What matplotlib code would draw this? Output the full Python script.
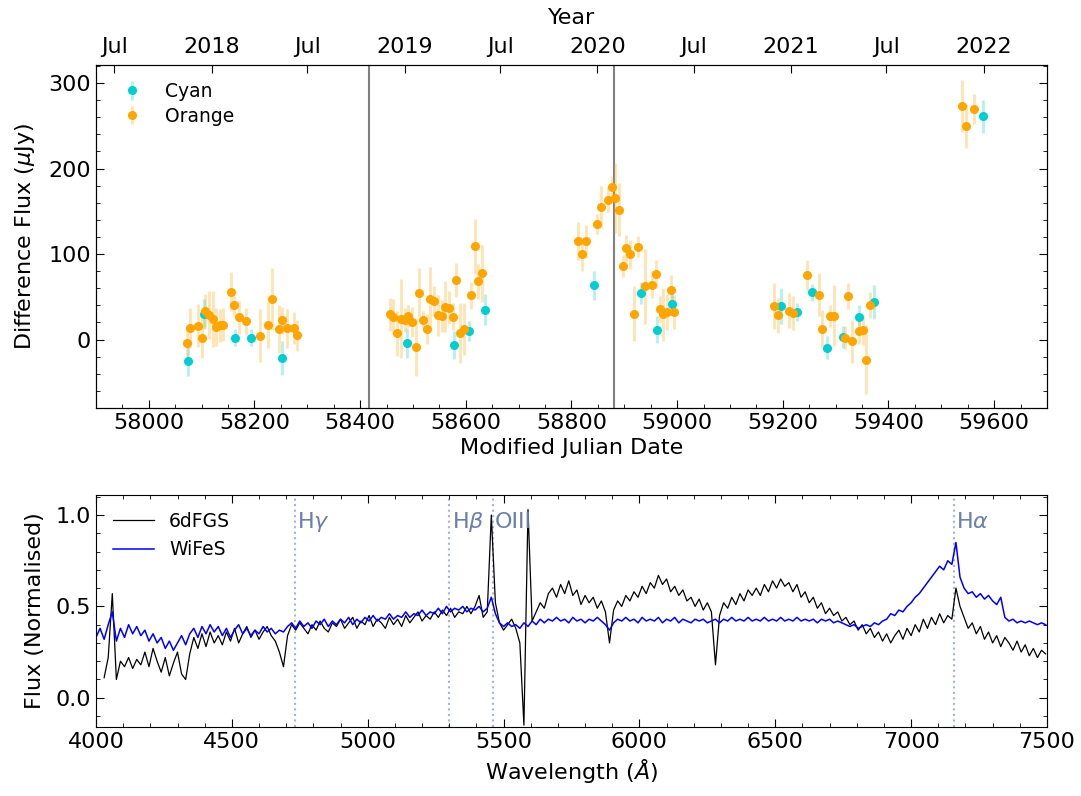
import numpy as np
import matplotlib
matplotlib.use('Agg')
import matplotlib.pyplot as plt
from matplotlib.ticker import AutoMinorLocator

plt.rcParams['font.size'] = 16

# light curve data (MJD, flux in uJy, error)
orange_mjd = [58072, 58078, 58093, 58100, 58107, 58114, 58121, 58128, 58134, 58141,
              58156, 58162, 58170, 58183, 58211, 58225, 58233, 58247, 58253, 58261,
              58274, 58281,
              58456, 58463, 58470, 58477, 58484, 58491, 58498, 58505, 58512, 58519,
              58526, 58533, 58540, 58547, 58554, 58561, 58568, 58575, 58582, 58589,
              58596, 58610, 58618, 58624, 58631,
              58813, 58820, 58827, 58849, 58855, 58869, 58876, 58883, 58890, 58897,
              58904, 58911, 58918, 58925, 58939, 58953, 58960, 58967, 58974, 58981,
              58988, 58995,
              59183, 59191, 59211, 59219, 59246, 59268, 59274, 59289, 59296, 59317,
              59323, 59331, 59345, 59352, 59358, 59366,
              59540, 59547, 59561]
orange_flux = [-3.5, 13.6, 16.3, 2.3, 33, 29, 24, 14.4, 16.7, 17.5,
               56, 40, 26, 21.4, 4.7, 17.5, 47.5, 12.8, 22.5, 13.2,
               13.2, 5,
               29.5, 27, 7.4, 24.5, 23, 27.6, 20.6, -8.6, 55, 23,
               12.4, 47.8, 44.7, 28.4, 27.6, 38.5, 37.4, 26.8, 69.7, 7.4,
               12, 51.7, 109, 68, 77.4,
               115, 100, 115, 135, 155, 163.4, 178.6, 165.7, 151.7, 86.4,
               106.6, 99.6, 30.3, 108.6, 62.2, 64.2, 76.7, 35.4, 29.5, 32.3,
               58.4, 32.3,
               38.9, 28.4, 33.5, 31.1, 75.9, 52.5, 12.8, 27.2, 28, 2.3,
               51, -2, 10.5, 11.3, -23.3, 40.5,
               273, 250, 270]
orange_err = [20, 23, 25, 24, 20, 28, 33, 22, 19, 19,
              23, 11, 19.5, 15.6, 31, 27, 36, 28, 15.6, 23,
              18.5, 18,
              19.5, 20, 26, 46, 14, 13, 18, 34, 29, 10,
              17, 37, 17.5, 24, 18.5, 30, 19, 15.6, 20, 35,
              30.5, 16, 32, 20, 33,
              22, 20, 19.5, 12, 25, 14.6, 12, 41, 31, 12.7,
              15.6, 16.6, 32, 12, 44, 15.6, 16.6, 15.6, 31, 21,
              17.5, 19.5,
              27, 20.5, 20.5, 19.5, 17.5, 25, 22, 12.7, 36, 13.6,
              15.6, 25, 15.6, 17.5, 40, 15,
              30, 26, 17.5]

cyan_mjd = [58075, 58104, 58164, 58194, 58252,
            58488, 58577, 58606, 58637,
            58842, 58931, 58961, 58990,
            59196, 59226, 59255, 59284, 59314, 59344, 59373,
            59579]
cyan_flux = [-24.5, 30, 2, 2, -21.4,
             -4, -6.2, 10, 35,
             63.4, 54.9, 11.7, 41.7,
             38.9, 32.3, 55.2, -9.3, 3.1, 26.5, 44,
             261]
cyan_err = [17.5, 17.5, 10, 10, 19.5,
            17.5, 16.5, 12, 18,
            17, 12.7, 15.6, 12.7,
            21, 10.7, 9.7, 13, 13, 14, 20,
            19]

vline_mjd = [58416, 58880]

year_ticks = [57935, 58119, 58300, 58484, 58665, 58849, 59031, 59215, 59396, 59580]
year_labels = ['Jul', '2018', 'Jul', '2019', 'Jul', '2020', 'Jul', '2021', 'Jul', '2022']

# spectra, 15 A sampling
sixdf_wave = np.arange(4030, 7500, 15)
sixdf_flux = [
    0.11, 0.22, 0.57, 0.10, 0.20, 0.17, 0.22, 0.16, 0.21, 0.18,
    0.25, 0.17, 0.27, 0.20, 0.14, 0.22, 0.12, 0.19, 0.25, 0.13,
    0.10, 0.24, 0.33, 0.27, 0.35, 0.28, 0.36, 0.30, 0.34, 0.29,
    0.36, 0.31, 0.38, 0.30, 0.35, 0.39, 0.33, 0.37, 0.32, 0.36,
    0.39, 0.34, 0.31, 0.25, 0.17, 0.34, 0.40, 0.37, 0.41, 0.38,
    0.35, 0.40, 0.37, 0.42, 0.38, 0.36, 0.41, 0.39, 0.43, 0.38,
    0.41, 0.44, 0.38, 0.42, 0.40, 0.45, 0.39, 0.43, 0.41, 0.38,
    0.44, 0.40, 0.43, 0.39, 0.45, 0.41, 0.44, 0.47, 0.42, 0.45,
    0.43, 0.47, 0.44, 0.48, 0.45, 0.49, 0.44, 0.47, 0.46, 0.50,
    0.46, 0.50, 0.56, 0.44, 0.47, 1.00, 0.52, 0.41, 0.37, 0.40,
    0.43, 0.38, 0.30, -0.15, 1.03, 0.42, 0.47, 0.52, 0.49, 0.57,
    0.60, 0.55, 0.62, 0.57, 0.64, 0.56, 0.59, 0.51, 0.56, 0.52,
    0.55, 0.49, 0.53, 0.47, 0.30, 0.48, 0.53, 0.50, 0.56, 0.53,
    0.58, 0.55, 0.61, 0.57, 0.63, 0.60, 0.67, 0.62, 0.65, 0.58,
    0.61, 0.56, 0.59, 0.53, 0.55, 0.50, 0.54, 0.48, 0.52, 0.47,
    0.18, 0.45, 0.52, 0.49, 0.55, 0.51, 0.57, 0.53, 0.59, 0.56,
    0.60, 0.56, 0.62, 0.58, 0.64, 0.60, 0.65, 0.61, 0.63, 0.58,
    0.62, 0.55, 0.58, 0.52, 0.55, 0.49, 0.52, 0.46, 0.49, 0.45,
    0.47, 0.42, 0.44, 0.40, 0.42, 0.37, 0.40, 0.35, 0.38, 0.33,
    0.36, 0.31, 0.35, 0.30, 0.34, 0.37, 0.32, 0.38, 0.34, 0.40,
    0.36, 0.43, 0.38, 0.44, 0.40, 0.46, 0.41, 0.45, 0.43, 0.60,
    0.50, 0.44, 0.38, 0.41, 0.35, 0.39, 0.32, 0.36, 0.30, 0.34,
    0.28, 0.33, 0.30, 0.26, 0.31, 0.25, 0.29, 0.23, 0.27, 0.22,
    0.26, 0.24]

wifes_wave = np.arange(4000, 7500, 15)
wifes_flux = [
    0.33, 0.38, 0.32, 0.40, 0.47, 0.31, 0.38, 0.33, 0.40, 0.35,
    0.39, 0.34, 0.37, 0.31, 0.35, 0.30, 0.33, 0.27, 0.31, 0.26,
    0.30, 0.34, 0.29, 0.35, 0.38, 0.33, 0.39, 0.35, 0.40, 0.36,
    0.39, 0.34, 0.38, 0.33, 0.37, 0.40, 0.35, 0.38, 0.34, 0.37,
    0.35, 0.39, 0.36, 0.38, 0.35, 0.37, 0.36, 0.39, 0.41, 0.38,
    0.42, 0.39, 0.41, 0.38, 0.42, 0.40, 0.43, 0.39, 0.42, 0.40,
    0.43, 0.41, 0.44, 0.40, 0.43, 0.41, 0.44, 0.42, 0.45, 0.42,
    0.44, 0.43, 0.46, 0.43, 0.45, 0.44, 0.47, 0.44, 0.46, 0.45,
    0.48, 0.45, 0.47, 0.46, 0.49, 0.46, 0.50, 0.47, 0.49, 0.48,
    0.50, 0.47, 0.49, 0.48, 0.50, 0.47, 0.49, 0.55, 0.46, 0.41,
    0.39, 0.41, 0.39, 0.40, 0.38, 0.41, 0.39, 0.42, 0.40, 0.43,
    0.41, 0.43, 0.42, 0.44, 0.42, 0.43, 0.41, 0.44, 0.42, 0.43,
    0.41, 0.43, 0.42, 0.44, 0.42, 0.40, 0.37, 0.41, 0.43, 0.42,
    0.44, 0.42, 0.43, 0.41, 0.44, 0.42, 0.43, 0.42, 0.44, 0.41,
    0.43, 0.42, 0.44, 0.41, 0.43, 0.42, 0.41, 0.43, 0.42, 0.43,
    0.41, 0.42, 0.43, 0.41, 0.43, 0.42, 0.44, 0.42, 0.43, 0.42,
    0.44, 0.42, 0.43, 0.42, 0.44, 0.42, 0.43, 0.42, 0.44, 0.42,
    0.43, 0.42, 0.44, 0.42, 0.43, 0.42, 0.43, 0.41, 0.43, 0.42,
    0.43, 0.41, 0.42, 0.41, 0.40, 0.39, 0.40, 0.38, 0.39, 0.40,
    0.39, 0.41, 0.40, 0.42, 0.43, 0.46, 0.45, 0.48, 0.47, 0.50,
    0.52, 0.55, 0.57, 0.60, 0.63, 0.66, 0.69, 0.72, 0.70, 0.75,
    0.73, 0.85, 0.66, 0.60, 0.57, 0.58, 0.55, 0.57, 0.54, 0.56,
    0.53, 0.51, 0.55, 0.44, 0.42, 0.43, 0.41, 0.42, 0.41, 0.42,
    0.41, 0.40, 0.41, 0.40]

line_wave = [4733, 5301, 5460, 7157]
line_names = [r'H$\gamma$', r'H$\beta$', 'OIII', r'H$\alpha$']

fig = plt.figure(figsize=(10.81, 7.96), dpi=100)
ax = fig.add_axes([0.0888, 0.4874, 0.8797, 0.4309])

for m in vline_mjd:
    ax.axvline(m, color='grey', lw=1.5, zorder=0)

ax.errorbar(cyan_mjd, cyan_flux, yerr=cyan_err, fmt='o', ms=5.5, color='darkturquoise',
            ecolor=(0.0, 0.81, 0.82, 0.3), elinewidth=2, label='Cyan')
ax.errorbar(orange_mjd, orange_flux, yerr=orange_err, fmt='o', ms=5.5, color='orange',
            ecolor=(1.0, 0.65, 0.0, 0.3), elinewidth=2, label='Orange')

ax.set_xlim(57900, 59700)
ax.set_ylim(-80, 321)
ax.set_xlabel('Modified Julian Date')
ax.set_ylabel(r'Difference Flux ($\mu$Jy)', labelpad=8)
ax.xaxis.set_minor_locator(AutoMinorLocator(4))
ax.yaxis.set_minor_locator(AutoMinorLocator(5))
ax.tick_params(which='both', direction='in', right=True)
ax.tick_params(which='major', length=6)
ax.tick_params(which='minor', length=3)
ax.legend(loc='upper left', frameon=False, fontsize=13.5, handletextpad=0.8,
          labelspacing=0.3)

ax2 = ax.twiny()
ax2.set_xlim(ax.get_xlim())
ax2.set_xticks(year_ticks)
ax2.set_xticklabels(year_labels)
ax2.tick_params(direction='in', length=6, pad=6)
ax2.set_xlabel('Year', labelpad=9)

ax3 = fig.add_axes([0.0888, 0.0867, 0.8797, 0.2915])
ax3.plot(sixdf_wave, sixdf_flux, color='k', lw=0.9, label='6dFGS')
ax3.plot(wifes_wave, wifes_flux, color='blue', lw=1.1, label='WiFeS')
for w, name in zip(line_wave, line_names):
    ax3.axvline(w, color='#a4b3d6', ls=':', lw=1.5, zorder=0)
    ax3.text(w + 8, 0.96, name, color='#6b7fa8', fontsize=16, ha='left', va='center')

ax3.set_xlim(4000, 7500)
ax3.set_ylim(-0.16, 1.11)
ax3.set_yticks([0.0, 0.5, 1.0])
ax3.set_xlabel(r'Wavelength ($\AA$)')
ax3.set_ylabel('Flux (Normalised)', labelpad=8)
ax3.xaxis.set_minor_locator(AutoMinorLocator(5))
ax3.yaxis.set_minor_locator(AutoMinorLocator(5))
ax3.tick_params(which='both', direction='in', top=True, right=True)
ax3.tick_params(which='major', length=6)
ax3.tick_params(which='minor', length=3)
ax3.legend(loc='upper left', frameon=False, fontsize=13.5, handlelength=2.2)

fig.savefig('out.png', dpi=100)
